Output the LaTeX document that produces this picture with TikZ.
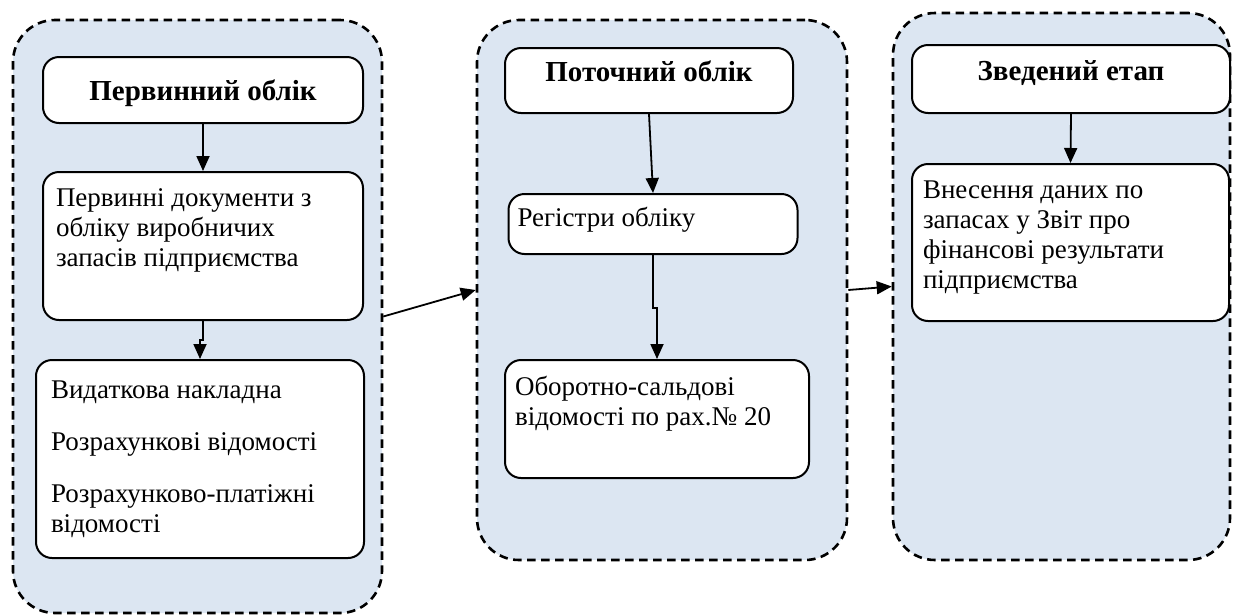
\documentclass[tikz,border=0pt]{standalone}
\usepackage{fontspec}
\setmainfont{Liberation Serif}
\usetikzlibrary{arrows.meta}

\definecolor{panelblue}{HTML}{DCE6F2}

\tikzset{
    stage/.style={draw=black, dash pattern=on 8.5pt off 5.5pt, line width=2.6pt,
        fill=panelblue, rounded corners=42pt, inner sep=0pt},
    box/.style={draw=black, line width=2pt, fill=white, rounded corners=16pt,
        inner xsep=13pt, inner ysep=12pt},
    title/.style={box, inner sep=0pt, text height=10pt, text depth=8pt,
        font=\fontsize{29}{32}\selectfont\bfseries},
    flow/.style={line width=1.8pt, -{Triangle[width=13pt,length=15pt]}}
}

% width, height, top offset, text
\newcommand{\boxtext}[4]{\parbox[c][#2][t]{#1}{\raggedright\vspace*{#3}#4}}

\begin{document}
\begin{tikzpicture}[x=1pt, y=-1pt, font=\fontsize{27}{30}\selectfont]
    \useasboundingbox (0,0) rectangle (1234,614);

    % Dashed stage panels
    \node[stage, minimum width=369pt, minimum height=593pt] (p1) at (197.5,316.5) {};
    \node[stage, minimum width=370pt, minimum height=540pt] (p2) at (662,290) {};
    \node[stage, minimum width=337pt, minimum height=547pt] (p3) at (1061.5,286.5) {};

    % Stage 1
    \node[title, text height=20pt, text depth=0pt, minimum width=320pt, minimum height=66pt] (t1) at (203,90) {Первинний облік};
    \node[box] (doc) at (203,246) {\boxtext{294pt}{124pt}{5pt}{Первинні документи з\\ обліку виробничих\\ запасів підприємства}};
    \node[box, inner xsep=15pt] (list) at (200,459) {\boxtext{298pt}{174pt}{9pt}{Видаткова накладна\\[22pt] Розрахункові відомості\\[22pt] Розрахунково-платіжні\\ відомості}};

    % Stage 2
    \node[title, minimum width=288pt, minimum height=65pt] (t2) at (649,80.5) {Поточний облік};
    \node[box, inner xsep=9pt] (reg) at (653,224) {\boxtext{271pt}{36pt}{1pt}{Регістри обліку}};
    \node[box, inner xsep=10pt] (osv) at (657,419) {\boxtext{284pt}{94pt}{4pt}{Оборотно-сальдові\\ відомості по рах.№ 20}};

    % Stage 3
    \node[title, minimum width=318pt, minimum height=68pt] (t3) at (1071,79) {Зведений етап};
    \node[box, inner xsep=11pt] (vn) at (1070.5,242.5) {\boxtext{295pt}{133pt}{5pt}{Внесення даних по\\ запасах у Звіт про\\ фінансові результати\\ підприємства}};

    % Arrows inside the stages
    \draw[flow] (t1.south) -- (doc.north);
    \draw[flow] (doc.south) -- ++(0,19) -| (list.north);
    \draw[flow] (t2.south) -- (reg.north);
    \draw[flow] (reg.south) -- ++(0,53) -| (osv.north);
    \draw[flow] (t3.south) -- (vn.north);

    % Arrows between the stages
    \draw[flow] (p1.east) -- (p2.west);
    \draw[flow] (p2.east) -- (p3.west);
\end{tikzpicture}
\end{document}
